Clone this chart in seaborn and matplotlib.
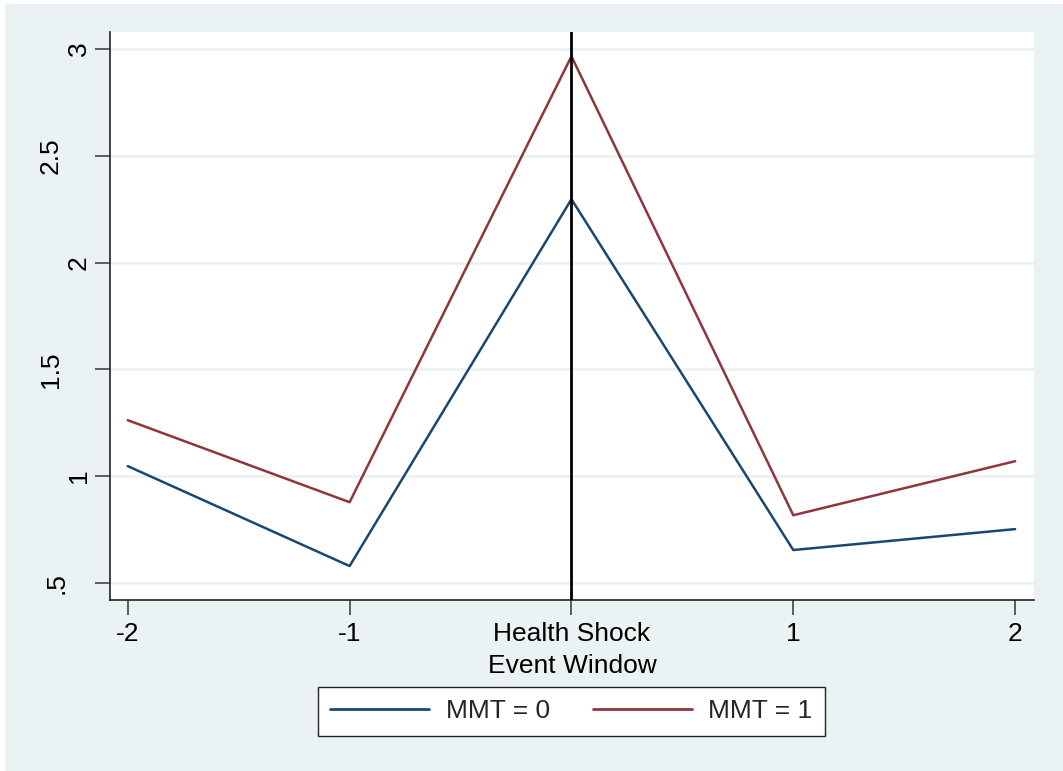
import matplotlib
matplotlib.use("Agg")
import matplotlib.pyplot as plt
import matplotlib.transforms as mtransforms
import seaborn as sns
import pandas as pd
from matplotlib.patches import Rectangle
from matplotlib.lines import Line2D

# Data
event_window = [-2, -1, 0, 1, 2]
mmt0 = [1.047, 0.579, 2.297, 0.654, 0.752]
mmt1 = [1.262, 0.878, 2.966, 0.817, 1.070]
series_labels = ["MMT = 0", "MMT = 1"]
x_tick_labels = ["-2", "-1", "Health Shock", "1", "2"]
y_ticks = [0.5, 1, 1.5, 2, 2.5, 3]
y_tick_labels = [".5", "1", "1.5", "2", "2.5", "3"]

df = pd.DataFrame({
    "x": event_window * 2,
    "y": mmt0 + mmt1,
    "series": [series_labels[0]] * len(event_window) + [series_labels[1]] * len(event_window),
})

sns.set_theme(style="white")
plt.rcParams["font.family"] = ["Liberation Sans", "DejaVu Sans"]

BG = "#EAF2F3"
BLUE = "#1A476F"
RED = "#90353B"

fig = plt.figure(figsize=(10.63, 7.71), dpi=100, facecolor="white")
fig.patches.append(Rectangle((5 / 1063, 0), 1 - 5 / 1063, 1 - 4 / 771,
                             transform=fig.transFigure, facecolor=BG,
                             edgecolor="none", zorder=-10))
ax = fig.add_axes([110 / 1063, 1 - 600 / 771, (1034 - 110) / 1063, (600 - 32) / 771])
ax.set_facecolor("white")

for y in y_ticks:
    ax.axhline(y, color=BG, lw=2, zorder=0)

sns.lineplot(data=df, x="x", y="y", hue="series", ax=ax,
             palette=[BLUE, RED], linewidth=1.8, legend=False)

ax.axvline(0, color="black", lw=2, zorder=3)

ax.set_xlim(-2.08, 2.085)
ax.set_ylim(0.42, 3.08)
ax.set_xticks(event_window)
ax.set_xticklabels(x_tick_labels)
ax.set_yticks(y_ticks)
ax.set_yticklabels(y_tick_labels, rotation=90, va="center")
ax.tick_params(axis="both", which="major", direction="out", length=11, width=1.2,
               color="#444444", labelsize=19, labelcolor="black",
               bottom=True, left=True)
ax.tick_params(axis="x", pad=5)
ax.tick_params(axis="y", pad=3)

# Stata places decimal labels further left
shifts = {".5": -22, "1.5": -28, "2.5": -28}
for lab, txt in zip(ax.get_yticklabels(), y_tick_labels):
    if txt in shifts:
        off = mtransforms.ScaledTranslation(shifts[txt] / 100, 0, fig.dpi_scale_trans)
        lab.set_transform(lab.get_transform() + off)

for s in ["top", "right"]:
    ax.spines[s].set_visible(False)
for s in ["left", "bottom"]:
    ax.spines[s].set_color("#222222")
    ax.spines[s].set_linewidth(1.2)

ax.set_xlabel("Event Window", fontsize=19, labelpad=5.5, color="black")
ax.set_ylabel("")

handles = [Line2D([], [], color=BLUE, lw=2), Line2D([], [], color=RED, lw=2)]
leg = fig.legend(handles, series_labels, loc="center",
                 bbox_to_anchor=(571.5 / 1063, 1 - 711.5 / 771),
                 ncol=2, fontsize=19, frameon=True, fancybox=False, handlelength=3.75,
                 handletextpad=0.64, columnspacing=1.6, borderpad=0.46, borderaxespad=0)
leg.get_frame().set_edgecolor("#222222")
leg.get_frame().set_linewidth(1.0)
leg.get_frame().set_facecolor("white")
leg.get_frame().set_alpha(1)

fig.savefig("out.png", dpi=100, facecolor=fig.get_facecolor())
